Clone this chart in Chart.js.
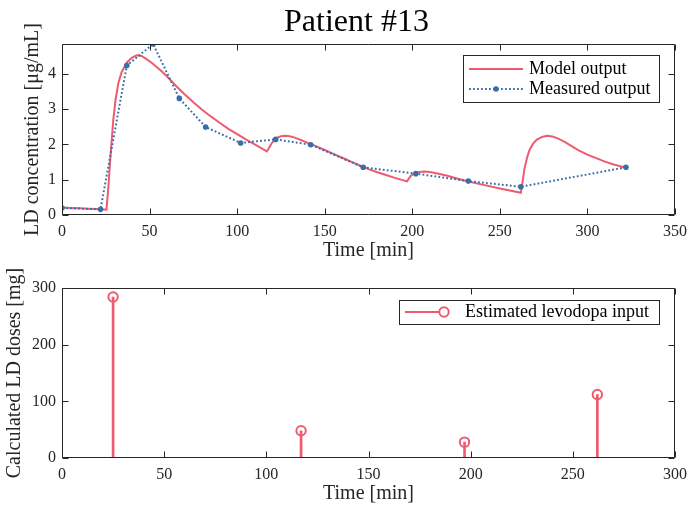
<!DOCTYPE html>
<html>
<head>
<meta charset="utf-8">
<title>Patient #13</title>
<script src="https://cdn.jsdelivr.net/npm/chart.js@4.4.1/dist/chart.umd.min.js"></script>
<style>
  html, body { margin: 0; padding: 0; background: #fff; }
  #wrap { position: relative; width: 689px; height: 510px; overflow: hidden; }
  canvas { position: absolute; left: 0; }
  #concChart { top: 0; }
  #doseChart { top: 262px; }
</style>
</head>
<body>
<div id="wrap">
  <canvas id="concChart" width="689" height="262"></canvas>
  <canvas id="doseChart" width="689" height="248"></canvas>
</div>
<script>
// ---- Data ----
// Simulated LD plasma concentration (model output), time in min, value in µg/mL
const modelTime = [0, 5, 10, 15, 20, 25.4, 26.5, 27.4, 28.4, 29.3, 30.6, 32.2, 34.1, 36.9, 39.8, 42.6,
  45.5, 48, 51.2, 54, 56.9, 60, 65, 70, 75, 80, 85, 90, 95, 100, 105, 110, 115, 117,
  118, 119, 120, 121.5, 123, 125, 127.3, 130, 133, 136, 140, 145, 150, 155, 160, 165, 171, 175, 180, 185,
  190, 195, 197, 198, 199, 200.5, 202, 204, 207, 210, 215, 220, 225, 232, 240, 250, 255, 262,
  263, 264, 265.5, 267, 269, 271, 274, 277, 280, 283, 287, 291, 295, 300, 305, 310, 315, 322];
const modelConc = [0.21, 0.20, 0.19, 0.18, 0.17, 0.15, 0.80, 1.47, 2.13, 2.70, 3.27, 3.74, 4.05, 4.31, 4.45, 4.52,
  4.50, 4.42, 4.31, 4.19, 4.07, 3.92, 3.66, 3.42, 3.19, 2.98, 2.79, 2.61, 2.44, 2.29, 2.14, 2.00, 1.86, 1.80,
  1.88, 1.97, 2.05, 2.13, 2.19, 2.23, 2.24, 2.23, 2.19, 2.13, 2.05, 1.95, 1.84, 1.73, 1.62, 1.51, 1.38, 1.30, 1.21, 1.13,
  1.05, 0.98, 0.95, 1.03, 1.10, 1.16, 1.19, 1.22, 1.23, 1.22, 1.17, 1.11, 1.04, 0.95, 0.86, 0.75, 0.70, 0.63,
  0.95, 1.30, 1.62, 1.85, 2.02, 2.13, 2.21, 2.24, 2.22, 2.17, 2.07, 1.95, 1.83, 1.71, 1.61, 1.51, 1.43, 1.34];

// Blood samples (measured output)
const measuredTime = [0, 22, 37, 52, 67, 82, 102, 122, 142, 172, 202, 232, 262, 322];
const measuredConc = [0.20, 0.16, 4.23, 4.84, 3.30, 2.49, 2.04, 2.14, 1.99, 1.35, 1.17, 0.96, 0.80, 1.35];

// Estimated levodopa doses
const doseTime = [25, 117, 197, 262];
const doseAmount = [284, 48, 28, 112];

// Axis ticks
const timeTicksTop = [0, 50, 100, 150, 200, 250, 300, 350];
const concTicks = [0, 1, 2, 3, 4];
const timeTicksBottom = [0, 50, 100, 150, 200, 250, 300];
const doseTicks = [0, 100, 200, 300];

// ---- Styling ----
const RED = '#EE5B70';
const BLUE = '#3A6EA8';
const AXIS = '#262626';
const FONT = '"Liberation Serif", "Times New Roman", serif';
const DOTTED = [1.8, 2.2];

const toPoints = (xs, ys) => xs.map((x, i) => ({ x: x, y: ys[i] }));
const fixedTicks = values => scale => { scale.ticks = values.map(v => ({ value: v })); };
// Fixed axis box size; label overhang must not shrink the plot area
const fitX = h => s => { s.height = h; s.paddingLeft = 0; s.paddingRight = 0; };
const fitY = w => s => { s.width = w; s.paddingTop = 0; s.paddingBottom = 0; };

// Box around the axes with inward tick marks on all four sides
const frameAndTicks = {
  id: 'frameAndTicks',
  afterDraw(chart) {
    const { ctx, chartArea: a, scales: { x, y } } = chart;
    const L = Math.round(a.left) + 0.5, R = Math.round(a.right) - 0.5;
    const T = Math.round(a.top) + 0.5, B = Math.round(a.bottom) - 0.5;
    const len = 6;
    ctx.save();
    ctx.strokeStyle = AXIS;
    ctx.lineWidth = 1;
    ctx.beginPath();
    ctx.rect(L, T, R - L, B - T);
    x.ticks.forEach(t => {
      const px = Math.round(x.getPixelForValue(t.value)) + 0.5;
      ctx.moveTo(px, B); ctx.lineTo(px, B - len);
      ctx.moveTo(px, T); ctx.lineTo(px, T + len);
    });
    y.ticks.forEach(t => {
      const py = Math.round(y.getPixelForValue(t.value)) + 0.5;
      ctx.moveTo(L, py); ctx.lineTo(L + len, py);
      ctx.moveTo(R, py); ctx.lineTo(R - len, py);
    });
    ctx.stroke();
    ctx.restore();
  }
};

// Plot title centred over the axes
const axesTitle = {
  id: 'axesTitle',
  afterDraw(chart, args, opts) {
    if (!opts.text) return;
    const { ctx, chartArea: a } = chart;
    ctx.save();
    ctx.fillStyle = '#000';
    ctx.font = opts.size + 'px ' + FONT;
    ctx.textAlign = 'center';
    ctx.textBaseline = 'alphabetic';
    ctx.fillText(opts.text, (a.left + a.right) / 2 + opts.dx, opts.baseline);
    ctx.restore();
  }
};

// Framed legend placed inside the plot area
const boxLegend = {
  id: 'boxLegend',
  afterDraw(chart, args, opts) {
    const ctx = chart.ctx;
    const [bx, by, bw, bh] = opts.box;
    ctx.save();
    ctx.fillStyle = '#fff';
    ctx.fillRect(bx, by, bw, bh);
    ctx.strokeStyle = AXIS;
    ctx.lineWidth = 1;
    ctx.strokeRect(bx + 0.5, by + 0.5, bw, bh);
    opts.items.forEach(it => {
      ctx.strokeStyle = it.color;
      ctx.lineWidth = 2;
      ctx.setLineDash(it.dash || []);
      ctx.beginPath();
      ctx.moveTo(it.x0, it.y);
      ctx.lineTo(it.x1, it.y);
      ctx.stroke();
      ctx.setLineDash([]);
      if (it.marker === 'dot') {
        ctx.fillStyle = it.color;
        ctx.beginPath();
        ctx.arc(it.mx, it.y, 2.8, 0, Math.PI * 2);
        ctx.fill();
      } else if (it.marker === 'ring') {
        ctx.beginPath();
        ctx.arc(it.mx, it.y, 4.7, 0, Math.PI * 2);
        ctx.stroke();
      }
      ctx.fillStyle = '#000';
      ctx.font = '18px ' + FONT;
      ctx.textBaseline = 'middle';
      ctx.textAlign = 'left';
      ctx.fillText(it.label, it.tx, it.y);
    });
    ctx.restore();
  }
};

const tickFont = { family: FONT, size: 16 };
const titleFont = { family: FONT, size: 20 };

// ---- Top: concentration over time ----
new Chart(document.getElementById('concChart'), {
  type: 'line',
  data: {
    datasets: [
      {
        label: 'Measured output',
        data: toPoints(measuredTime, measuredConc),
        borderColor: BLUE,
        borderWidth: 2,
        borderDash: DOTTED,
        pointRadius: 2.8,
        pointBackgroundColor: BLUE,
        pointBorderWidth: 0,
        tension: 0,
        order: 0
      },
      {
        label: 'Model output',
        data: toPoints(modelTime, modelConc),
        borderColor: RED,
        borderWidth: 2,
        pointRadius: 0,
        tension: 0,
        order: 1
      }
    ]
  },
  options: {
    responsive: false,
    animation: false,
    events: [],
    layout: { padding: { left: 17, right: 14, top: 44, bottom: 0 } },
    plugins: {
      legend: { display: false },
      tooltip: { enabled: false },
      title: { display: false },
      axesTitle: { text: 'Patient #13', size: 32, baseline: 31, dx: -12 },
      boxLegend: {
        box: [463, 55, 196, 47],
        items: [
          { label: 'Model output', color: RED, x0: 469, x1: 523, y: 69, tx: 529 },
          { label: 'Measured output', color: BLUE, dash: DOTTED, x0: 469, x1: 523, y: 89, marker: 'dot', mx: 496, tx: 529 }
        ]
      }
    },
    scales: {
      x: {
        type: 'linear', min: 0, max: 350,
        afterBuildTicks: fixedTicks(timeTicksTop),
        afterFit: fitX(47),
        grid: { display: false, drawTicks: false },
        border: { display: false },
        ticks: { color: AXIS, font: tickFont, padding: 7, maxRotation: 0, autoSkip: false },
        title: { display: true, text: 'Time [min]', color: AXIS, font: titleFont, padding: { top: 0, bottom: -1 } }
      },
      y: {
        type: 'linear', min: 0, max: 4.84,
        afterBuildTicks: fixedTicks(concTicks),
        afterFit: fitY(45),
        grid: { display: false, drawTicks: false },
        border: { display: false },
        ticks: { color: AXIS, font: tickFont, padding: 6 },
        title: { display: true, text: 'LD concentration [μg/mL]', color: AXIS, font: titleFont, padding: { top: 4, bottom: 0 } }
      }
    }
  },
  plugins: [frameAndTicks, axesTitle, boxLegend]
});

// ---- Bottom: estimated doses as stems ----
new Chart(document.getElementById('doseChart'), {
  type: 'bar',
  data: {
    datasets: [
      {
        type: 'scatter',
        label: 'Estimated levodopa input',
        data: toPoints(doseTime, doseAmount),
        pointStyle: 'circle',
        pointRadius: 4.7,
        pointBorderWidth: 2,
        pointBorderColor: RED,
        pointBackgroundColor: 'rgba(0,0,0,0)',
        order: 0
      },
      {
        type: 'bar',
        label: 'stem',
        data: toPoints(doseTime, doseAmount),
        backgroundColor: RED,
        barThickness: 2,
        order: 1
      }
    ]
  },
  options: {
    responsive: false,
    animation: false,
    events: [],
    layout: { padding: { left: 0, right: 14, top: 26, bottom: 0 } },
    plugins: {
      legend: { display: false },
      tooltip: { enabled: false },
      boxLegend: {
        box: [399, 38, 260, 24],
        items: [
          { label: 'Estimated levodopa input', color: RED, x0: 405, x1: 439.3, y: 50, marker: 'ring', mx: 444, tx: 465 }
        ]
      }
    },
    scales: {
      x: {
        type: 'linear', min: 0, max: 300, offset: false,
        afterBuildTicks: fixedTicks(timeTicksBottom),
        afterFit: fitX(52),
        grid: { display: false, drawTicks: false, offset: false },
        border: { display: false },
        ticks: { color: AXIS, font: tickFont, padding: 7, maxRotation: 0, autoSkip: false },
        title: { display: true, text: 'Time [min]', color: AXIS, font: titleFont, padding: { top: 0, bottom: 4 } }
      },
      y: {
        type: 'linear', min: 0, max: 300,
        afterBuildTicks: fixedTicks(doseTicks),
        afterFit: fitY(62),
        grid: { display: false, drawTicks: false },
        border: { display: false },
        ticks: { color: AXIS, font: tickFont, padding: 6 },
        title: { display: true, text: 'Calculated LD doses [mg]', color: AXIS, font: titleFont, padding: { top: 3, bottom: 0 } }
      }
    }
  },
  plugins: [frameAndTicks, boxLegend]
});
</script>
</body>
</html>
